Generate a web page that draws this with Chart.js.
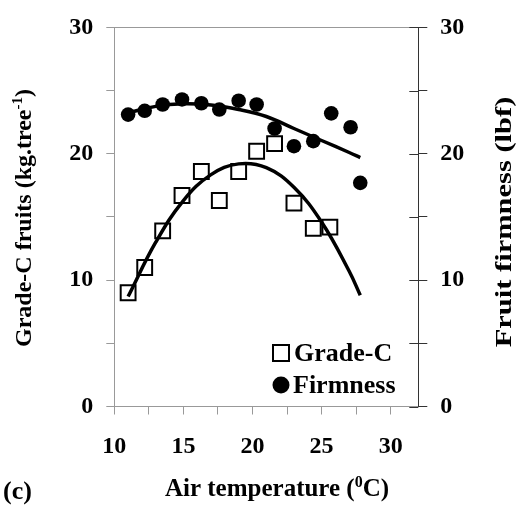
<!DOCTYPE html>
<html>
<head>
<meta charset="utf-8">
<script src="https://cdn.jsdelivr.net/npm/chart.js@4.4.1/dist/chart.umd.min.js"></script>
<style>
    html, body { margin: 0; padding: 0; background: #fff; }
    #wrap { width: 522px; height: 506px; position: relative; }
</style>
</head>
<body>
<div id="wrap"><canvas id="chart-fruit"></canvas></div>
<script>
// values
const tempGrade = [11, 12.2, 13.5, 14.9, 16.3, 17.6, 19, 20.3, 21.6, 23, 24.4, 25.6];
const gradeC = [9.0, 11.0, 13.9, 16.7, 18.6, 16.3, 18.6, 20.2, 20.8, 16.1, 14.1, 14.2];

const tempFirm = [11, 12.2, 13.5, 14.9, 16.3, 17.6, 19, 20.3, 21.6, 23, 24.4, 25.7, 27.1, 27.8];
const firmness = [23.1, 23.4, 23.9, 24.3, 24.0, 23.5, 24.2, 23.9, 22.0, 20.6, 21.0, 23.2, 22.1, 17.7];

// fitted curves
const trendTemp = [11, 13, 15, 17, 19, 21, 23, 25, 27, 27.8];
const gradeTrend = [8.7, 13.0, 16.3, 18.35, 19.2, 18.9, 17.35, 14.6, 10.7, 8.8];
const firmTrend = [23.24, 23.75, 23.95, 23.85, 23.5, 22.95, 22.0, 21.05, 20.1, 19.7];

const yTicks = [0, 10, 20, 30];
const xTicks = [10, 15, 20, 25, 30];

const FONT = 'Liberation Serif';

function toPoints(xs, ys) {
    return xs.map((x, i) => ({x: x, y: ys[i]}));
}

// text with a superscript part, centred at (0,0) of the current transform
function drawRichText(ctx, parts, size) {
    const supSize = Math.round(size * 0.62);
    let total = 0;
    parts.forEach(function (p) {
        ctx.font = `bold ${p.sup ? supSize : size}px "${FONT}"`;
        p.w = ctx.measureText(p.t).width;
        total += p.w;
    });
    let x = -total / 2;
    ctx.textBaseline = 'middle';
    ctx.textAlign = 'left';
    parts.forEach(function (p) {
        ctx.font = `bold ${p.sup ? supSize : size}px "${FONT}"`;
        ctx.fillText(p.t, x, p.sup ? -size * 0.3 : 0);
        x += p.w;
    });
}

const decorPlugin = {
    id: 'decor',
    afterDraw(chart) {
        const ctx = chart.ctx;
        const y2 = chart.scales.y2;
        ctx.save();

        // right axis ticks cross the axis line
        ctx.strokeStyle = '#333';
        ctx.lineWidth = 1;
        for (let v = 0; v <= 30; v += 5) {
            const py = Math.round(y2.getPixelForValue(v)) + 0.5;
            ctx.beginPath();
            ctx.moveTo(y2.left, py);
            ctx.lineTo(y2.left - 9, py);
            ctx.stroke();
        }

        ctx.fillStyle = '#000';

        // axis titles
        ctx.save();
        ctx.translate(25, 218);
        ctx.rotate(-Math.PI / 2);
        drawRichText(ctx, [{t: 'Grade-C fruits (kg.tree'}, {t: '-1', sup: true}, {t: ')'}], 24);
        ctx.restore();

        // the right title is drawn stretched in the original
        ctx.save();
        ctx.translate(505, 222);
        ctx.rotate(-Math.PI / 2);
        ctx.scale(1.27, 1);
        drawRichText(ctx, [{t: 'Fruit firmness (lbf)'}], 24);
        ctx.restore();

        ctx.save();
        ctx.translate(277, 490);
        drawRichText(ctx, [{t: 'Air temperature ('}, {t: '0', sup: true}, {t: 'C)'}], 25);
        ctx.restore();

        ctx.font = `bold 26px "${FONT}"`;
        ctx.textBaseline = 'middle';
        ctx.textAlign = 'left';
        ctx.fillText('(c)', 3, 492);

        // legend inside the plot
        const ds = chart.data.datasets;
        ctx.strokeStyle = '#000';
        ctx.lineWidth = 2;
        ctx.fillStyle = '#fff';
        ctx.fillRect(273, 345, 16, 16);
        ctx.strokeRect(273, 345, 16, 16);
        ctx.fillStyle = '#000';
        ctx.beginPath();
        ctx.arc(281, 385, 8.5, 0, Math.PI * 2);
        ctx.fill();
        ctx.font = `bold 26px "${FONT}"`;
        ctx.fillText(ds[0].label, 294, 354);
        ctx.fillText(ds[1].label, 293, 386);

        ctx.restore();
    }
};

function createChart(ctx) {
    const tickFont = {family: FONT, size: 24, weight: 'bold'};
    return new Chart(ctx, {
        type: 'scatter',
        data: {
            datasets: [
                {
                    label: 'Grade-C',
                    data: toPoints(tempGrade, gradeC),
                    yAxisID: 'y',
                    pointStyle: 'rect',
                    pointRadius: 10.5,
                    pointBackgroundColor: '#fff',
                    pointBorderColor: '#000',
                    pointBorderWidth: 2,
                    order: 2
                },
                {
                    label: 'Firmness',
                    data: toPoints(tempFirm, firmness),
                    yAxisID: 'y2',
                    pointStyle: 'circle',
                    pointRadius: 7.3,
                    pointBackgroundColor: '#000',
                    pointBorderColor: '#000',
                    pointBorderWidth: 0,
                    order: 2
                },
                {
                    label: 'Grade-C fit',
                    type: 'line',
                    data: toPoints(trendTemp, gradeTrend),
                    yAxisID: 'y',
                    borderColor: '#000',
                    borderWidth: 3.5,
                    pointRadius: 0,
                    tension: 0.4,
                    fill: false,
                    order: 1
                },
                {
                    label: 'Firmness fit',
                    type: 'line',
                    data: toPoints(trendTemp, firmTrend),
                    yAxisID: 'y2',
                    borderColor: '#000',
                    borderWidth: 3.5,
                    pointRadius: 0,
                    tension: 0.4,
                    fill: false,
                    order: 1
                }
            ]
        },
        options: {
            responsive: false,
            animation: false,
            layout: {padding: {top: 19.5, left: 0, right: 0, bottom: 0}},
            plugins: {
                legend: {display: false},
                tooltip: {enabled: false}
            },
            scales: {
                x: {
                    type: 'linear',
                    position: 'bottom',
                    min: 10,
                    max: 32,
                    afterFit: s => { s.height = 99.5; },
                    border: {color: '#999', width: 1},
                    grid: {drawOnChartArea: false, tickLength: 8, color: '#999'},
                    ticks: {
                        stepSize: 2.5,
                        includeBounds: false,
                        autoSkip: false,
                        maxRotation: 0,
                        padding: 18,
                        color: '#000',
                        font: tickFont,
                        callback: v => xTicks.includes(v) ? String(v) : ''
                    }
                },
                xTop: {
                    type: 'linear',
                    position: 'top',
                    min: 10,
                    max: 32,
                    afterFit: s => { s.height = 0; },
                    border: {color: '#999', width: 1},
                    grid: {display: false},
                    ticks: {display: false}
                },
                y: {
                    position: 'left',
                    min: 0,
                    max: 30,
                    afterFit: s => { s.width = 114.3; },
                    border: {color: '#999', width: 1},
                    grid: {drawOnChartArea: false, tickLength: 8, color: '#999'},
                    ticks: {
                        stepSize: 5,
                        padding: 13,
                        color: '#000',
                        font: tickFont,
                        callback: v => yTicks.includes(v) ? String(v) : ''
                    }
                },
                y2: {
                    position: 'right',
                    min: 0,
                    max: 30,
                    afterFit: s => { s.width = 103.7; },
                    border: {color: '#333', width: 1},
                    grid: {drawOnChartArea: false, tickLength: 9, color: '#333'},
                    ticks: {
                        stepSize: 5,
                        padding: 13,
                        color: '#000',
                        font: tickFont,
                        callback: v => yTicks.includes(v) ? String(v) : ''
                    }
                }
            }
        },
        plugins: [decorPlugin]
    });
}

const canvas = document.getElementById('chart-fruit');
canvas.width = 522;
canvas.height = 506;
const chartFruit = createChart(canvas);
</script>
</body>
</html>
